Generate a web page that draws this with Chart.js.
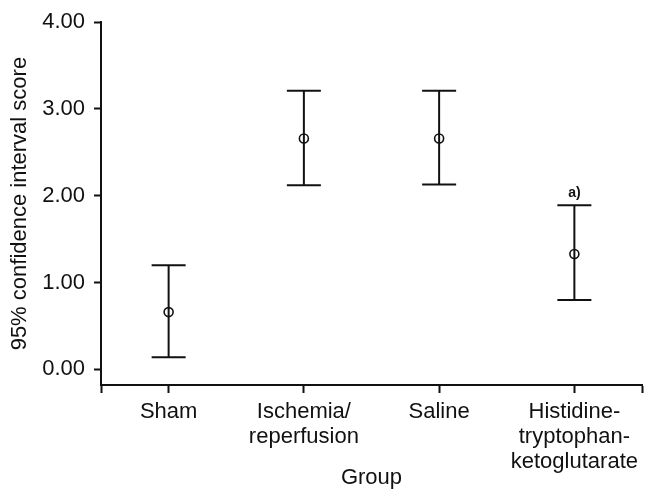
<!DOCTYPE html>
<html lang="en">
<head>
<meta charset="UTF-8">
<title>95% confidence interval score by group</title>
<script src="https://cdn.jsdelivr.net/npm/chart.js"></script>
<style>
    body { margin: 0; background: #ffffff; }
    .chart-box { width: 654px; height: 501px; position: relative; }
</style>
</head>
<body>
<div class="chart-box">
    <canvas id="ciChart"></canvas>
</div>
<script>
// group names (multi-line labels as in the figure)
const groups = [
    ['Sham'],
    ['Ischemia/', 'reperfusion'],
    ['Saline'],
    ['Histidine-', 'tryptophan-', 'ketoglutarate']
];
const means = [0.66, 2.66, 2.66, 1.33];
const lower = [0.14, 2.12, 2.13, 0.80];
const upper = [1.20, 3.21, 3.21, 1.89];
const yTicks = [0, 1, 2, 3, 4];
// significance mark above the HTK group
const markGroup = 3;
const markText = 'a)';

const FONT = "'Liberation Sans', Arial, Helvetica, sans-serif";
const INK = '#111111';

// one vertical line per group, from lower to upper limit
const whiskers = groups.map((g, i) => ({
    type: 'line',
    data: [{ x: i + 1, y: lower[i] }, { x: i + 1, y: upper[i] }],
    borderColor: INK,
    borderWidth: 2,
    pointRadius: 0,
    fill: false
}));

const caps = {
    type: 'scatter',
    data: groups.flatMap((g, i) => [{ x: i + 1, y: lower[i] }, { x: i + 1, y: upper[i] }]),
    pointStyle: 'line',
    pointRadius: 17,
    borderColor: INK,
    borderWidth: 2
};

const meanPoints = {
    type: 'scatter',
    data: means.map((m, i) => ({ x: i + 1, y: m })),
    pointStyle: 'circle',
    pointRadius: 4.5,
    backgroundColor: '#ffffff',
    borderColor: INK,
    borderWidth: 1.6
};

// writes the "a)" mark just above the upper cap
const markPlugin = {
    id: 'markPlugin',
    afterDatasetsDraw(chart) {
        const { ctx, scales } = chart;
        const x = scales.x.getPixelForValue(markGroup + 1);
        const y = scales.y.getPixelForValue(upper[markGroup]);
        ctx.save();
        ctx.font = 'bold 14px ' + FONT;
        ctx.fillStyle = INK;
        ctx.textAlign = 'center';
        ctx.textBaseline = 'middle';
        ctx.fillText(markText, x, y - 12);
        ctx.restore();
    }
};

new Chart(document.getElementById('ciChart'), {
    type: 'scatter',
    data: { datasets: [...whiskers, caps, meanPoints] },
    options: {
        responsive: true,
        maintainAspectRatio: false,
        animation: false,
        layout: {
            autoPadding: false, // the wide cap markers should not shrink the plot
            padding: { top: 20, right: 12, left: 0, bottom: 0 }
        },
        plugins: {
            legend: { display: false },
            tooltip: { enabled: false }
        },
        scales: {
            x: {
                type: 'linear',
                min: 0.5,
                max: 4.5,
                afterBuildTicks: (scale) => {
                    scale.ticks = [0.5, 1, 2, 3, 4, 4.5].map(v => ({ value: v }));
                },
                afterFit: (scale) => { scale.height = 116; },
                grid: {
                    drawOnChartArea: false,
                    drawTicks: true,
                    tickLength: 8,
                    tickColor: INK,
                    tickWidth: 2
                },
                border: { color: INK, width: 2 },
                ticks: {
                    autoSkip: false,
                    maxRotation: 0,
                    padding: 6,
                    color: INK,
                    font: { family: FONT, size: 22, lineHeight: 1.14 },
                    callback: (v) => Number.isInteger(v) ? groups[v - 1] : ''
                },
                title: {
                    display: true,
                    text: 'Group',
                    color: INK,
                    font: { family: FONT, size: 22 },
                    padding: { top: 0, bottom: 10 }
                }
            },
            y: {
                min: -0.18,
                max: 4,
                afterBuildTicks: (scale) => {
                    scale.ticks = yTicks.map(v => ({ value: v }));
                },
                afterFit: (scale) => { scale.width = 101; },
                grid: {
                    drawOnChartArea: false,
                    drawTicks: true,
                    tickLength: 7,
                    tickColor: INK,
                    tickWidth: 2
                },
                border: { color: INK, width: 2 },
                ticks: {
                    padding: 9,
                    color: INK,
                    font: { family: FONT, size: 22 },
                    callback: (v) => v.toFixed(2)
                },
                title: {
                    display: true,
                    text: '95% confidence interval score',
                    color: INK,
                    font: { family: FONT, size: 22 },
                    padding: { top: 7, bottom: 0 }
                }
            }
        }
    },
    plugins: [markPlugin]
});
</script>
</body>
</html>
